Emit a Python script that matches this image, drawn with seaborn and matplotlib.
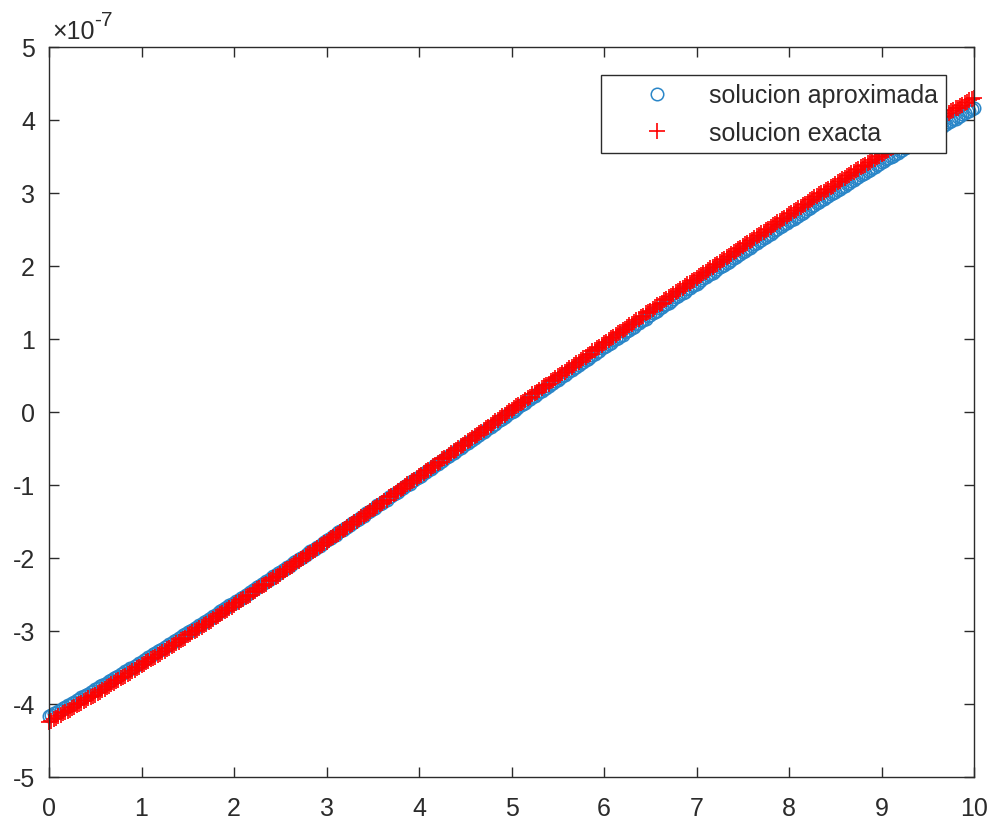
import numpy as np
import pandas as pd
import matplotlib
matplotlib.use("Agg")
import matplotlib.pyplot as plt
import seaborn as sns

# ---- data (values in units of 1e-7) ----
# samples every 0.025 on x in [0, 10]; centre point is x = 5
X_START, X_END = 0.0, 10.0

# solucion aproximada, x = 5.000 .. 10.000
aprox_derecha = [
    0.00, 0.02, 0.04, 0.07, 0.09, 0.11, 0.13, 0.16, 0.18, 0.20,
    0.22, 0.24, 0.27, 0.29, 0.31, 0.33, 0.36, 0.38, 0.40, 0.42,
    0.44, 0.47, 0.49, 0.51, 0.53, 0.56, 0.58, 0.60, 0.62, 0.64,
    0.67, 0.69, 0.71, 0.73, 0.76, 0.78, 0.80, 0.82, 0.84, 0.87,
    0.89, 0.91, 0.93, 0.95, 0.98, 1.00, 1.02, 1.04, 1.06, 1.09,
    1.11, 1.13, 1.15, 1.17, 1.20, 1.22, 1.24, 1.26, 1.28, 1.31,
    1.33, 1.35, 1.37, 1.39, 1.42, 1.44, 1.46, 1.48, 1.50, 1.52,
    1.55, 1.57, 1.59, 1.61, 1.63, 1.65, 1.68, 1.70, 1.72, 1.74,
    1.76, 1.78, 1.81, 1.83, 1.85, 1.87, 1.89, 1.91, 1.93, 1.96,
    1.98, 2.00, 2.02, 2.04, 2.06, 2.08, 2.11, 2.13, 2.15, 2.17,
    2.19, 2.21, 2.23, 2.25, 2.28, 2.30, 2.32, 2.34, 2.36, 2.38,
    2.40, 2.42, 2.44, 2.46, 2.49, 2.51, 2.53, 2.55, 2.57, 2.59,
    2.61, 2.63, 2.65, 2.67, 2.69, 2.71, 2.73, 2.75, 2.78, 2.80,
    2.82, 2.84, 2.86, 2.88, 2.90, 2.92, 2.94, 2.96, 2.98, 3.00,
    3.02, 3.04, 3.06, 3.08, 3.10, 3.12, 3.14, 3.16, 3.18, 3.20,
    3.22, 3.24, 3.26, 3.28, 3.30, 3.32, 3.34, 3.36, 3.38, 3.40,
    3.42, 3.44, 3.46, 3.48, 3.50, 3.51, 3.53, 3.55, 3.57, 3.59,
    3.61, 3.63, 3.65, 3.67, 3.69, 3.71, 3.73, 3.74, 3.76, 3.78,
    3.80, 3.82, 3.84, 3.86, 3.88, 3.89, 3.91, 3.93, 3.95, 3.97,
    3.99, 4.01, 4.02, 4.04, 4.06, 4.08, 4.10, 4.12, 4.13, 4.15,
    4.17,
]
# solucion aproximada, x = 4.975 .. 0.000 (listed moving left from x = 5)
aprox_izquierda = [
    -0.02, -0.04, -0.07, -0.09, -0.11, -0.13, -0.16, -0.18, -0.20,
    -0.22, -0.24, -0.27, -0.29, -0.31, -0.33, -0.36, -0.38, -0.40, -0.42,
    -0.44, -0.47, -0.49, -0.51, -0.53, -0.56, -0.58, -0.60, -0.62, -0.64,
    -0.67, -0.69, -0.71, -0.73, -0.76, -0.78, -0.80, -0.82, -0.84, -0.87,
    -0.89, -0.91, -0.93, -0.95, -0.98, -1.00, -1.02, -1.04, -1.06, -1.09,
    -1.11, -1.13, -1.15, -1.17, -1.20, -1.22, -1.24, -1.26, -1.28, -1.31,
    -1.33, -1.35, -1.37, -1.39, -1.42, -1.44, -1.46, -1.48, -1.50, -1.52,
    -1.55, -1.57, -1.59, -1.61, -1.63, -1.65, -1.68, -1.70, -1.72, -1.74,
    -1.76, -1.78, -1.81, -1.83, -1.85, -1.87, -1.89, -1.91, -1.93, -1.96,
    -1.98, -2.00, -2.02, -2.04, -2.06, -2.08, -2.11, -2.13, -2.15, -2.17,
    -2.19, -2.21, -2.23, -2.25, -2.28, -2.30, -2.32, -2.34, -2.36, -2.38,
    -2.40, -2.42, -2.44, -2.46, -2.49, -2.51, -2.53, -2.55, -2.57, -2.59,
    -2.61, -2.63, -2.65, -2.67, -2.69, -2.71, -2.73, -2.75, -2.78, -2.80,
    -2.82, -2.84, -2.86, -2.88, -2.90, -2.92, -2.94, -2.96, -2.98, -3.00,
    -3.02, -3.04, -3.06, -3.08, -3.10, -3.12, -3.14, -3.16, -3.18, -3.20,
    -3.22, -3.24, -3.26, -3.28, -3.30, -3.32, -3.34, -3.36, -3.38, -3.40,
    -3.42, -3.44, -3.46, -3.48, -3.50, -3.51, -3.53, -3.55, -3.57, -3.59,
    -3.61, -3.63, -3.65, -3.67, -3.69, -3.71, -3.73, -3.74, -3.76, -3.78,
    -3.80, -3.82, -3.84, -3.86, -3.88, -3.89, -3.91, -3.93, -3.95, -3.97,
    -3.99, -4.01, -4.02, -4.04, -4.06, -4.08, -4.10, -4.12, -4.13, -4.15,
    -4.17,
]

# solucion exacta, x = 5.000 .. 10.000
exacta_derecha = [
    0.03, 0.05, 0.08, 0.10, 0.12, 0.14, 0.17, 0.19, 0.21, 0.24,
    0.26, 0.28, 0.30, 0.33, 0.35, 0.37, 0.39, 0.42, 0.44, 0.46,
    0.49, 0.51, 0.53, 0.55, 0.58, 0.60, 0.62, 0.65, 0.67, 0.69,
    0.71, 0.74, 0.76, 0.78, 0.80, 0.83, 0.85, 0.87, 0.89, 0.92,
    0.94, 0.96, 0.99, 1.01, 1.03, 1.05, 1.08, 1.10, 1.12, 1.14,
    1.17, 1.19, 1.21, 1.23, 1.26, 1.28, 1.30, 1.32, 1.35, 1.37,
    1.39, 1.41, 1.44, 1.46, 1.48, 1.50, 1.53, 1.55, 1.57, 1.59,
    1.61, 1.64, 1.66, 1.68, 1.70, 1.73, 1.75, 1.77, 1.79, 1.81,
    1.84, 1.86, 1.88, 1.90, 1.92, 1.95, 1.97, 1.99, 2.01, 2.03,
    2.06, 2.08, 2.10, 2.12, 2.14, 2.17, 2.19, 2.21, 2.23, 2.25,
    2.28, 2.30, 2.32, 2.34, 2.36, 2.38, 2.41, 2.43, 2.45, 2.47,
    2.49, 2.51, 2.53, 2.56, 2.58, 2.60, 2.62, 2.64, 2.66, 2.68,
    2.71, 2.73, 2.75, 2.77, 2.79, 2.81, 2.83, 2.85, 2.87, 2.90,
    2.92, 2.94, 2.96, 2.98, 3.00, 3.02, 3.04, 3.06, 3.08, 3.10,
    3.12, 3.15, 3.17, 3.19, 3.21, 3.23, 3.25, 3.27, 3.29, 3.31,
    3.33, 3.35, 3.37, 3.39, 3.41, 3.43, 3.45, 3.47, 3.49, 3.51,
    3.53, 3.55, 3.57, 3.59, 3.61, 3.63, 3.65, 3.67, 3.69, 3.71,
    3.73, 3.75, 3.77, 3.79, 3.81, 3.83, 3.85, 3.87, 3.89, 3.91,
    3.93, 3.95, 3.96, 3.98, 4.00, 4.02, 4.04, 4.06, 4.08, 4.10,
    4.12, 4.14, 4.16, 4.17, 4.19, 4.21, 4.23, 4.25, 4.27, 4.29,
    4.30,
]
# solucion exacta, x = 4.975 .. 0.000 (listed moving left from x = 5)
exacta_izquierda = [
    0.01, -0.02, -0.04, -0.06, -0.08, -0.11, -0.13, -0.15, -0.18, -0.20,
    -0.22, -0.24, -0.27, -0.29, -0.31, -0.33, -0.36, -0.38, -0.40, -0.43,
    -0.45, -0.47, -0.49, -0.52, -0.54, -0.56, -0.59, -0.61, -0.63, -0.65,
    -0.68, -0.70, -0.72, -0.74, -0.77, -0.79, -0.81, -0.83, -0.86, -0.88,
    -0.90, -0.93, -0.95, -0.97, -0.99, -1.02, -1.04, -1.06, -1.08, -1.11,
    -1.13, -1.15, -1.17, -1.20, -1.22, -1.24, -1.26, -1.29, -1.31, -1.33,
    -1.35, -1.38, -1.40, -1.42, -1.44, -1.47, -1.49, -1.51, -1.53, -1.55,
    -1.58, -1.60, -1.62, -1.64, -1.67, -1.69, -1.71, -1.73, -1.75, -1.78,
    -1.80, -1.82, -1.84, -1.86, -1.89, -1.91, -1.93, -1.95, -1.97, -2.00,
    -2.02, -2.04, -2.06, -2.08, -2.11, -2.13, -2.15, -2.17, -2.19, -2.22,
    -2.24, -2.26, -2.28, -2.30, -2.32, -2.35, -2.37, -2.39, -2.41, -2.43,
    -2.45, -2.47, -2.50, -2.52, -2.54, -2.56, -2.58, -2.60, -2.62, -2.65,
    -2.67, -2.69, -2.71, -2.73, -2.75, -2.77, -2.79, -2.81, -2.84, -2.86,
    -2.88, -2.90, -2.92, -2.94, -2.96, -2.98, -3.00, -3.02, -3.04, -3.06,
    -3.09, -3.11, -3.13, -3.15, -3.17, -3.19, -3.21, -3.23, -3.25, -3.27,
    -3.29, -3.31, -3.33, -3.35, -3.37, -3.39, -3.41, -3.43, -3.45, -3.47,
    -3.49, -3.51, -3.53, -3.55, -3.57, -3.59, -3.61, -3.63, -3.65, -3.67,
    -3.69, -3.71, -3.73, -3.75, -3.77, -3.79, -3.81, -3.83, -3.85, -3.87,
    -3.89, -3.90, -3.92, -3.94, -3.96, -3.98, -4.00, -4.02, -4.04, -4.06,
    -4.08, -4.10, -4.11, -4.13, -4.15, -4.17, -4.19, -4.21, -4.23, -4.24,
]

solucion_aproximada = aprox_izquierda[::-1] + aprox_derecha
solucion_exacta = exacta_izquierda[::-1] + exacta_derecha
x_values = np.linspace(X_START, X_END, len(solucion_aproximada))

series_labels = ["solucion aproximada", "solucion exacta"]
x_ticks = [0, 1, 2, 3, 4, 5, 6, 7, 8, 9, 10]
y_ticks = [-5, -4, -3, -2, -1, 0, 1, 2, 3, 4, 5]
exponent_text = ("\u00d710", "-7")

df = pd.DataFrame({"x": x_values,
                   "aprox": solucion_aproximada,
                   "exacta": solucion_exacta})

# ---- style ----
sns.set_theme(style="white")
plt.rcParams["font.family"] = ["Liberation Sans", "DejaVu Sans"]
plt.rcParams["axes.unicode_minus"] = False

TEXT_COLOR = "#2b2b2b"
BLUE = "#2a86c8"
RED = "#ff0000"
FS = 18

fig = plt.figure(figsize=(9.97, 8.28), dpi=100)
fig.patch.set_facecolor("white")
ax = fig.add_axes([49 / 997, 50 / 828, 925 / 997, 730 / 828])

sns.lineplot(data=df, x="x", y="aprox", ax=ax, marker="o", linestyle="",
             markersize=9.0, markerfacecolor="none", markeredgecolor=BLUE,
             markeredgewidth=1.1, color=BLUE, label=series_labels[0],
             sort=False, estimator=None, clip_on=False)
sns.lineplot(data=df, x="x", y="exacta", ax=ax, marker="+", linestyle="",
             markersize=11, markeredgecolor=RED, markeredgewidth=1.2,
             color=RED, label=series_labels[1], sort=False, estimator=None,
             clip_on=False)

ax.set_xlim(0, 10)
ax.set_ylim(-5, 5)
ax.set_xticks(x_ticks)
ax.set_yticks(y_ticks)
ax.set_xticklabels([str(t) for t in x_ticks])
ax.set_yticklabels([str(t) for t in y_ticks])
ax.set_xlabel("")
ax.set_ylabel("")

for sp in ax.spines.values():
    sp.set_visible(True)
    sp.set_color(TEXT_COLOR)
    sp.set_linewidth(1.0)
    sp.set_zorder(5)

ax.tick_params(axis="both", which="both", direction="in", length=7,
               width=1.0, color=TEXT_COLOR, labelcolor=TEXT_COLOR,
               labelsize=FS, top=True, right=True, bottom=True, left=True)
ax.tick_params(axis="x", pad=14)
ax.tick_params(axis="y", pad=10)

leg = ax.legend(loc="upper right", bbox_to_anchor=(0.970, 0.9616),
                borderaxespad=0, fontsize=FS, frameon=True, fancybox=False,
                shadow=False, framealpha=1, edgecolor=TEXT_COLOR,
                handlelength=3.85, handletextpad=0.15, labelspacing=0.55,
                borderpad=0.33)
leg.get_frame().set_linewidth(1.0)
leg.set_zorder(10)
for txt in leg.get_texts():
    txt.set_color(TEXT_COLOR)

t1 = ax.text(0.003, 1.012, exponent_text[0], transform=ax.transAxes,
             fontsize=FS, color=TEXT_COLOR, ha="left", va="baseline")
ax.annotate(exponent_text[1], xy=(1.0, 0.6), xycoords=t1, fontsize=15,
            color=TEXT_COLOR, ha="left", va="bottom")

fig.savefig("out.png", dpi=100, facecolor="white")
